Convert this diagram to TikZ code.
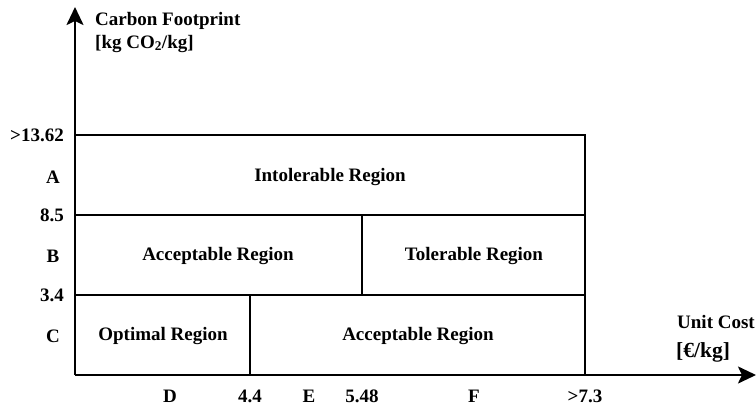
\documentclass[tikz,border=0pt]{standalone}
\usepackage{fontspec}
\setmainfont{Liberation Serif}
\usetikzlibrary{arrows.meta}
\tikzset{
  lbl/.style={font=\fontsize{19}{22}\selectfont\bfseries, inner sep=1pt},
  region/.style={font=\fontsize{19}{22}\selectfont\bfseries},
  axis/.style={line width=2.2pt, -{Stealth[length=18pt,width=17pt,inset=4pt]}},
  cell/.style={line width=2.2pt}
}
\begin{document}
\begin{tikzpicture}[x=1pt, y=-1pt]
  \useasboundingbox (0,0) rectangle (756,410);

  % Axes
  \coordinate (o) at (75,375);
  \coordinate (ytop) at (75,7);
  \coordinate (xend) at (756,375);
  \draw[axis] (o) -- (ytop);
  \draw[axis] (o) -- (xend);

  \node[lbl, anchor=base west] (ytitle) at (94,25) {Carbon Footprint};
  \node[lbl, anchor=base west] (yunit) at (94,48) {[kg CO\textsubscript{2}/kg]};
  \node[lbl, anchor=base west] (xtitle) at (676,328) {Unit Cost};
  \node[lbl, anchor=base west, font=\fontsize{21.5}{24}\selectfont\bfseries] (xunit) at (675,357) {[€/kg]};

  % Grid of regions
  \draw[cell] (75,135) -- (585,135) -- (585,375);
  \draw[cell] (75,215) -- (585,215);
  \draw[cell] (75,295) -- (585,295);
  \draw[cell] (362,215) -- (362,295);
  \draw[cell] (250,295) -- (250,375);

  \node[region] (intol) at (330,177) {Intolerable Region};
  \node[region] (accb) at (218,256) {Acceptable Region};
  \node[region] (tol) at (474,256) {Tolerable Region};
  \node[region] (opt) at (163,336) {Optimal Region};
  \node[region] (accc) at (418,336) {Acceptable Region};

  % Y labels
  \node[lbl, anchor=east] (y1) at (65,135) {>13.62};
  \node[lbl] (ya) at (53,177) {A};
  \node[lbl, anchor=east] (y2) at (65,215) {8.5};
  \node[lbl] (yb) at (53,256) {B};
  \node[lbl, anchor=east] (y3) at (65,295) {3.4};
  \node[lbl] (yc) at (53,336) {C};

  % X labels
  \node[lbl] (xd) at (170,396) {D};
  \node[lbl] (x1) at (250,396) {4.4};
  \node[lbl] (xe) at (309,396) {E};
  \node[lbl] (x2) at (362,396) {5.48};
  \node[lbl] (xf) at (474,396) {F};
  \node[lbl] (x3) at (585,396) {>7.3};
\end{tikzpicture}
\end{document}
